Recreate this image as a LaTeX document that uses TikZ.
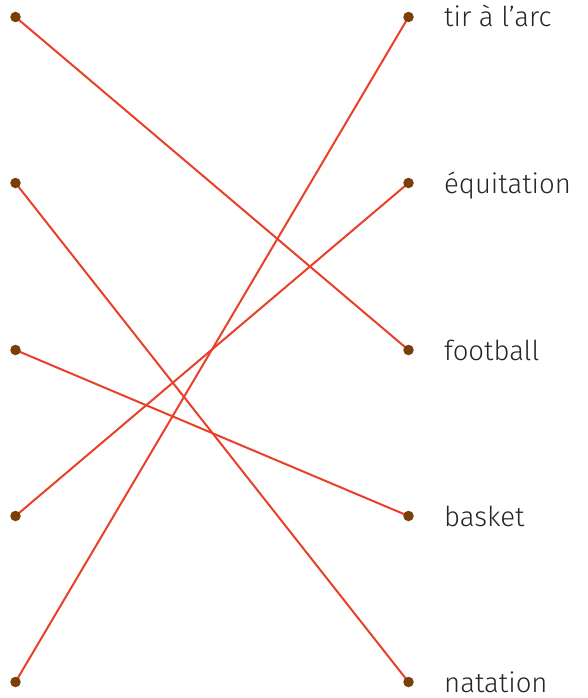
\documentclass[tikz,border=0pt]{standalone}
\usepackage{fontspec}
\setmainfont{Fira Sans Light}[BoldFont=Fira Sans]
\definecolor{linkred}{HTML}{EA3F28}
\definecolor{dotbrown}{HTML}{7A3F06}
\begin{document}
\begin{tikzpicture}[x=1pt,y=-1pt,
  dotnode/.style={circle,fill=dotbrown,inner sep=0pt,minimum size=10.5pt},
  lbl/.style={anchor=base west,inner sep=0pt,font=\fontsize{27.5}{30}\selectfont,text=black!85},
  link/.style={draw=linkred,line width=2pt}]
\useasboundingbox (0,0) rectangle (587,698);
\foreach \i/\y in {1/17,2/183,3/350,4/516,5/682}{
  \coordinate (lc\i) at (15.5,\y);
  \coordinate (rc\i) at (408.5,\y);
}
\draw[link] (lc1) -- (rc3);
\draw[link] (lc2) -- (rc5);
\draw[link] (lc3) -- (rc4);
\draw[link] (lc4) -- (rc2);
\draw[link] (lc5) -- (rc1);
\foreach \i in {1,...,5}{
  \node[dotnode] (l\i) at (lc\i) {};
  \node[dotnode] (r\i) at (rc\i) {};
}
\node[lbl] (t1) at (444,27) {tir à l’arc};
\node[lbl] (t2) at (444,193) {équitation};
\node[lbl] (t3) at (444,360) {football};
\node[lbl] (t4) at (444,526) {basket};
\node[lbl] (t5) at (444,692) {natation};
\end{tikzpicture}
\end{document}
